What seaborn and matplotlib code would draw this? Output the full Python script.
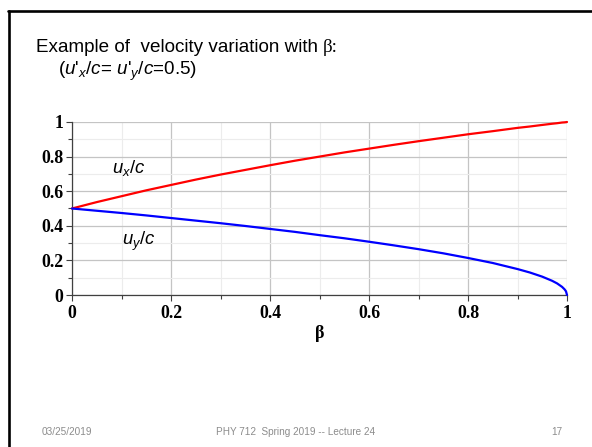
import matplotlib
matplotlib.use("Agg")
import matplotlib.pyplot as plt
from matplotlib.lines import Line2D
from matplotlib.ticker import MultipleLocator
import seaborn as sns
import pandas as pd

# velocity components (in units of c) versus beta, for u'x/c = u'y/c = 0.5
beta = [0.0, 0.05, 0.1, 0.15, 0.2, 0.25, 0.3, 0.35, 0.4, 0.45, 0.5, 0.55,
        0.6, 0.65, 0.7, 0.75, 0.8, 0.85, 0.9, 0.925, 0.95, 0.97, 0.98,
        0.99, 0.995, 0.998, 1.0]
ux = [0.500, 0.537, 0.571, 0.605, 0.636, 0.667, 0.696, 0.723, 0.750, 0.776,
      0.800, 0.824, 0.846, 0.868, 0.889, 0.909, 0.929, 0.947, 0.966, 0.974,
      0.983, 0.990, 0.993, 0.997, 0.998, 0.999, 1.000]
uy = [0.500, 0.487, 0.474, 0.460, 0.445, 0.430, 0.415, 0.399, 0.382, 0.365,
      0.346, 0.328, 0.308, 0.287, 0.265, 0.241, 0.214, 0.185, 0.150, 0.130,
      0.106, 0.082, 0.067, 0.047, 0.033, 0.021, 0.000]

x_ticks = [0, 0.2, 0.4, 0.6, 0.8, 1]
x_tick_labels = ["0", "0.2", "0.4", "0.6", "0.8", "1"]
y_ticks = [0, 0.2, 0.4, 0.6, 0.8, 1]
y_tick_labels = ["0", "0.2", "0.4", "0.6", "0.8", "1"]

df = pd.DataFrame({
    "beta": beta * 2,
    "u": ux + uy,
    "component": ["ux"] * len(beta) + ["uy"] * len(beta),
})

sns.set_style("white")
plt.rcParams["font.family"] = ["Liberation Sans", "DejaVu Sans"]
plt.rcParams["text.color"] = "black"
plt.rcParams["xtick.labelcolor"] = "black"
plt.rcParams["ytick.labelcolor"] = "black"
plt.rcParams["axes.labelcolor"] = "black"
plt.rcParams["mathtext.fontset"] = "custom"
plt.rcParams["mathtext.it"] = "Liberation Sans:italic"
plt.rcParams["mathtext.rm"] = "Liberation Sans"

fig = plt.figure(figsize=(5.92, 4.47), dpi=100)
ax = fig.add_axes([72 / 592, 1 - 295 / 447, (567 - 72) / 592, (295 - 122) / 447])

sns.lineplot(data=df, x="beta", y="u", hue="component",
             palette={"ux": "#ff0000", "uy": "#0000ff"},
             linewidth=1.6, legend=False, ax=ax, clip_on=False, zorder=5)

ax.set_xlim(0, 1)
ax.set_ylim(0, 1)
ax.set_xticks(x_ticks)
ax.set_xticklabels(x_tick_labels)
ax.set_yticks(y_ticks)
ax.set_yticklabels(y_tick_labels)
ax.xaxis.set_minor_locator(MultipleLocator(0.1))
ax.yaxis.set_minor_locator(MultipleLocator(0.1))

ax.grid(True, which="major", color="#c4c4c4", linewidth=0.9)
ax.grid(True, which="minor", color="#ececec", linewidth=0.8)
ax.set_axisbelow(True)

for side in ("top", "right"):
    ax.spines[side].set_visible(False)
for side in ("left", "bottom"):
    ax.spines[side].set_color("#404040")
    ax.spines[side].set_linewidth(0.9)

ax.tick_params(which="both", direction="out", color="#404040",
               left=True, bottom=True, width=0.8)
ax.tick_params(which="major", length=4, pad=2)
ax.tick_params(which="minor", length=3)

serif_bold = dict(family="Liberation Serif", weight="bold", size=13, color="black")
for lab in ax.get_xticklabels() + ax.get_yticklabels():
    lab.set_fontfamily("Liberation Serif")
    lab.set_fontweight("bold")
    lab.set_fontsize(12.8)
    lab.set_color("black")
ax.tick_params(axis="x", pad=3)

ax.set_xlabel("β", fontdict=serif_bold, labelpad=2)
ax.set_ylabel("")

# curve labels
ax.text(0.08, 0.735, r"$u_x$/$c$", fontsize=13.3, ha="left", va="center", color="black")
ax.text(0.10, 0.31, r"$u_y$/$c$", fontsize=13.3, ha="left", va="center", color="black")

# slide heading
renderer = fig.canvas.get_renderer()
head = fig.text(36 / 592, 1 - 52 / 447, "Example of  velocity variation with ",
                fontsize=13.6, family="Liberation Sans", ha="left", va="baseline",
                color="black")
head_end = head.get_window_extent(renderer=renderer).x1
fig.text(head_end / 592, 1 - 52 / 447, "β:", fontsize=13.6,
         family="Liberation Serif", ha="left", va="baseline", color="black")
fig.text(58 / 592, 1 - 75 / 447, r"($u$'$_x$/$c$= $u$'$_y$/$c$=0.5)",
         fontsize=13.6, family="Liberation Sans", ha="left", va="baseline",
         color="black")

# footer
foot = dict(fontsize=7.2, color="#8c8c8c", family="Liberation Sans", va="baseline")
fig.text(42 / 592, 1 - 435 / 447, "03/25/2019", ha="left", **foot)
fig.text(296 / 592, 1 - 435 / 447, "PHY 712  Spring 2019 -- Lecture 24", ha="center", **foot)
fig.text(557 / 592, 1 - 435 / 447, "17", ha="center", **foot)

# slide frame
fig.add_artist(Line2D([8 / 592, 1], [1 - 10.5 / 447, 1 - 10.5 / 447],
                      transform=fig.transFigure, color="black", linewidth=1.9))
fig.add_artist(Line2D([8.5 / 592, 8.5 / 592], [0, 1 - 10.5 / 447],
                      transform=fig.transFigure, color="black", linewidth=1.9))

fig.savefig("out.png", dpi=100)
